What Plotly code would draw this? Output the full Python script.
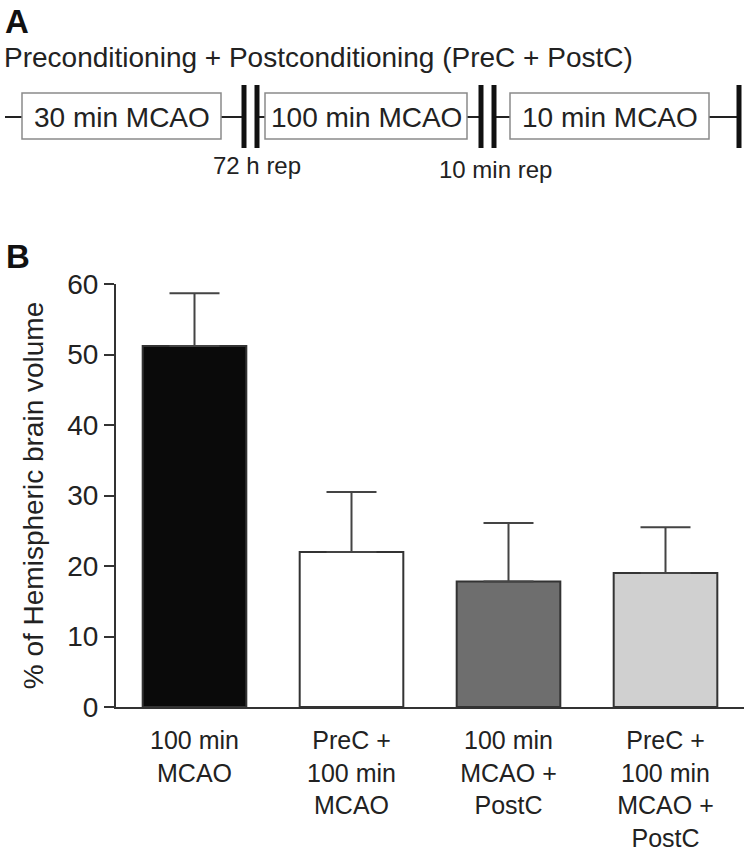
import plotly.graph_objects as go

# ---- Panel B data ----
categories = ["100 min<br>MCAO", "PreC +<br>100 min<br>MCAO", "100 min<br>MCAO +<br>PostC",
              "PreC +<br>100 min<br>MCAO +<br>PostC"]
values = [51.2, 22.0, 17.8, 19.0]
errors = [7.5, 8.5, 8.3, 6.5]
bar_colors = ["#0a0a0a", "#ffffff", "#6e6e6e", "#d0d0d0"]
y_ticks = [0, 10, 20, 30, 40, 50, 60]

# ---- Panel A schematic (pixel layout of the diagram) ----
box_labels = ["30 min MCAO", "100 min MCAO", "10 min MCAO"]
box_x = [(22, 221), (265, 467), (510, 709)]
line_segments = [(5, 22), (221, 244), (257, 265), (467, 481), (494, 510), (709, 739)]
break_bars = [244, 257, 481, 494, 739]
rep_labels = ["72 h rep", "10 min rep"]
rep_pos = [(257, 165), (495, 169)]

W, H = 749, 853
FONT = "Liberation Sans, Arial, Helvetica, sans-serif"
TXT = "#222222"

fig = go.Figure()
fig.add_trace(go.Bar(
    x=list(range(len(categories))), y=values,
    width=0.66,
    marker=dict(color=bar_colors, line=dict(color="#333333", width=2)),
    error_y=dict(type="data", symmetric=False, array=errors, arrayminus=[0] * len(errors),
                 color="#444444", thickness=2, width=25),
    xaxis="x", yaxis="y", showlegend=False,
))

# invisible overlay axes used for the schematic in panel A
fig.add_trace(go.Scatter(x=[0], y=[0], mode="markers", marker=dict(opacity=0),
                         xaxis="x2", yaxis="y2", showlegend=False, hoverinfo="skip"))

shapes = []
for (x0, x1) in line_segments:
    shapes.append(dict(type="line", xref="x2", yref="y2", x0=x0, x1=x1, y0=117, y1=117,
                       line=dict(color="#222222", width=2)))
for (x0, x1) in box_x:
    shapes.append(dict(type="rect", xref="x2", yref="y2", x0=x0, x1=x1, y0=93, y1=139,
                       line=dict(color="#8a8a8a", width=1.5), fillcolor="white"))
for bx in break_bars:
    shapes.append(dict(type="line", xref="x2", yref="y2", x0=bx, x1=bx, y0=85, y1=148,
                       line=dict(color="#111111", width=5)))

annotations = []
annotations.append(dict(text="<b>A</b>", xref="x2", yref="y2", x=3, y=21, xanchor="left",
                        yanchor="middle", showarrow=False, font=dict(size=33, color="#111", family=FONT)))
annotations.append(dict(text="Preconditioning + Postconditioning (PreC + PostC)", xref="x2", yref="y2",
                        x=2, y=57, xanchor="left", yanchor="middle", showarrow=False,
                        font=dict(size=28, color=TXT, family=FONT)))
for lab, (x0, x1) in zip(box_labels, box_x):
    annotations.append(dict(text=lab, xref="x2", yref="y2", x=(x0 + x1) / 2, y=117,
                            xanchor="center", yanchor="middle", showarrow=False,
                            font=dict(size=28, color=TXT, family=FONT)))
for lab, (px, py) in zip(rep_labels, rep_pos):
    annotations.append(dict(text=lab, xref="x2", yref="y2", x=px, y=py,
                            xanchor="center", yanchor="middle", showarrow=False,
                            font=dict(size=24, color=TXT, family=FONT)))
annotations.append(dict(text="<b>B</b>", xref="x2", yref="y2", x=4, y=256, xanchor="left",
                        yanchor="middle", showarrow=False, font=dict(size=33, color="#111", family=FONT)))

x_left, x_right = 116, 744
y_top, y_bot = 284, 707

fig.update_layout(
    width=W, height=H,
    margin=dict(l=0, r=0, t=0, b=0, autoexpand=False),
    paper_bgcolor="white", plot_bgcolor="rgba(0,0,0,0)",
    font=dict(family=FONT, size=27, color=TXT),
    shapes=shapes, annotations=annotations,
    xaxis=dict(domain=[x_left / W, x_right / W], range=[-0.5, 3.5],
               tickmode="array", tickvals=list(range(len(categories))), ticktext=categories,
               showline=True, linecolor="#333333", linewidth=2, ticks="",
               showgrid=False, zeroline=False, anchor="y", automargin=False,
               tickfont=dict(size=25, color=TXT, family=FONT), ticklabelstandoff=10),
    yaxis=dict(domain=[(H - y_bot) / H, (H - y_top) / H], range=[0, 60],
               tickmode="array", tickvals=y_ticks,
               showline=True, linecolor="#333333", linewidth=2,
               ticks="outside", ticklen=10, tickwidth=2, tickcolor="#333333",
               showgrid=False, zeroline=False, anchor="x", automargin=False,
               tickfont=dict(size=28, color=TXT, family=FONT),
               title=dict(text="% of Hemispheric brain volume", font=dict(size=28, color=TXT, family=FONT))),
    xaxis2=dict(domain=[0, 1], range=[0, W], visible=False, anchor="y2", fixedrange=True),
    yaxis2=dict(domain=[0, 1], range=[H, 0], visible=False, anchor="x2", fixedrange=True),
)

fig.write_html("out.html", config={"displayModeBar": False},
               post_script="document.body.style.margin='0px';")
